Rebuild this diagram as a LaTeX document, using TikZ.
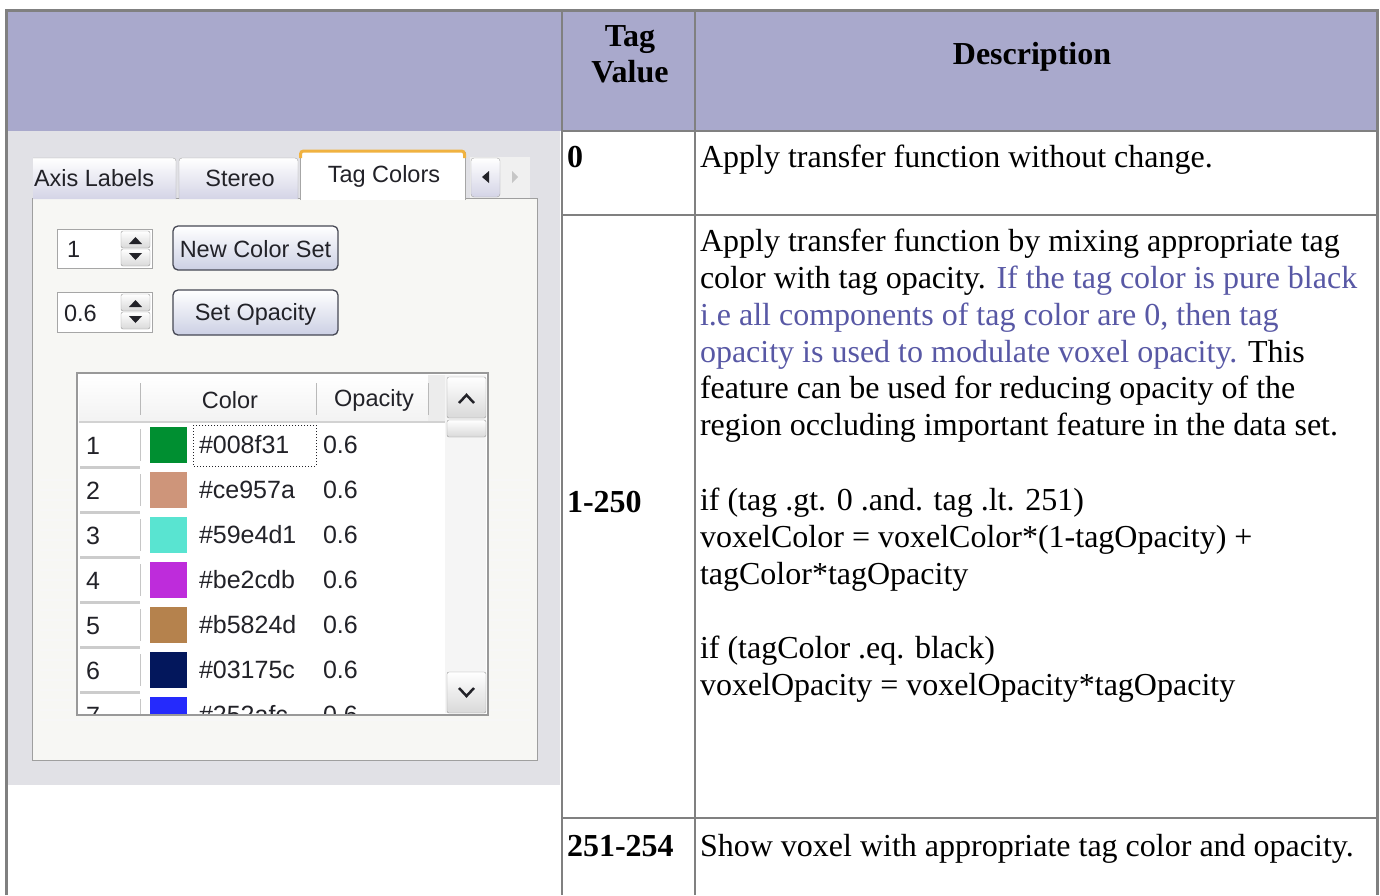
\documentclass[tikz,border=0pt]{standalone}
\usepackage{fontspec}
\setmainfont{Liberation Serif}
\newfontfamily\uifont{Liberation Sans}
\definecolor{hdr}{RGB}{169,169,204}
\definecolor{gridc}{RGB}{128,128,128}
\definecolor{bluetxt}{RGB}{88,88,165}
\definecolor{shotbg}{RGB}{225,225,230}
\definecolor{panelbg}{RGB}{247,247,244}
\definecolor{tabbot}{RGB}{212,212,230}
\definecolor{btnbot}{RGB}{204,208,228}
\definecolor{btnline}{RGB}{70,72,84}
\definecolor{uitxt}{RGB}{34,34,40}
\definecolor{orangetab}{RGB}{240,178,64}
\definecolor{cA}{HTML}{008f31}
\definecolor{cB}{HTML}{ce957a}
\definecolor{cC}{HTML}{59e4d1}
\definecolor{cD}{HTML}{be2cdb}
\definecolor{cE}{HTML}{b5824d}
\definecolor{cF}{HTML}{03175c}
\definecolor{cG}{HTML}{252afc}
\begin{document}
\begin{tikzpicture}[x=1pt,y=-1pt,
  txt/.style={font=\fontsize{32}{36.8}\selectfont, anchor=base west, inner sep=0pt, outer sep=0pt},
  hd/.style={font=\fontsize{32}{36.8}\selectfont\bfseries, anchor=base, inner sep=0pt, outer sep=0pt},
  ui/.style={font=\uifont\fontsize{23.5}{27}\selectfont, text=uitxt, inner sep=0pt, outer sep=0pt},
  cell/.style={font=\uifont\fontsize{25}{29}\selectfont, text=uitxt, inner sep=0pt, outer sep=0pt, anchor=west},
  tabshape/.style={draw=gray!70, top color=white, bottom color=tabbot, rounded corners=3pt},
  spinbtn/.style={draw=gray!80, rounded corners=2pt, top color=white, bottom color=gray!30},
  bigbtn/.style={draw=btnline, line width=1.3pt, rounded corners=5pt, top color=white, bottom color=btnbot},
  cellline/.style={draw=gridc, line width=2.5pt},
]
\useasboundingbox (0,0) rectangle (1380,895);
\fill[white] (0,0) rectangle (1380,895);
% ---------- table frame ----------
\fill[hdr] (7,11) rectangle (1377,131);
\fill[shotbg] (8,131) rectangle (560,785);
\draw[cellline] (562,11) -- (562,895);
\draw[cellline] (695,11) -- (695,895);
\draw[cellline] (562,131) -- (1377,131);
\draw[cellline] (562,215) -- (1377,215);
\draw[cellline] (562,818) -- (1377,818);
\draw[gridc, line width=3pt] (6.5,895) -- (6.5,10.5) -- (1377.5,10.5) -- (1377.5,895);
% ---------- header text ----------
\node[hd] (tag1) at (630,46) {Tag};
\node[hd] (tag2) at (630,82) {Value};
\node[hd] (desc) at (1032,64) {Description};
% ---------- rows ----------
\node[txt, font=\fontsize{32}{36.8}\selectfont\bfseries] (v0) at (567,167) {0};
\node[txt] (r0) at (700,167) {Apply transfer function without change.};
\node[txt, font=\fontsize{32}{36.8}\selectfont\bfseries] (v1) at (567,512) {1-250};
\node[txt] (d1) at (700,251) {Apply transfer function by mixing appropriate tag};
\node[txt] (d2) at (700,288) {color with tag opacity. \textcolor{bluetxt}{If the tag color is pure black}};
\node[txt, text=bluetxt] (d3) at (700,325) {i.e all components of tag color are 0, then tag};
\node[txt] (d4) at (700,362) {\textcolor{bluetxt}{opacity is used to modulate voxel opacity.} This};
\node[txt] (d5) at (700,398.5) {feature can be used for reducing opacity of the};
\node[txt] (d6) at (700,435.5) {region occluding important feature in the data set.};
\node[txt] (d7) at (700,510) {if (tag .gt. 0 .and. tag .lt. 251)};
\node[txt] (d8) at (700,547) {voxelColor = voxelColor*(1-tagOpacity) +};
\node[txt] (d9) at (700,584) {tagColor*tagOpacity};
\node[txt] (d10) at (700,658) {if (tagColor .eq. black)};
\node[txt] (d11) at (700,695) {voxelOpacity = voxelOpacity*tagOpacity};
\node[txt, font=\fontsize{32}{36.8}\selectfont\bfseries] (v2) at (567,856) {251-254};
\node[txt] (r2) at (700,856) {Show voxel with appropriate tag color and opacity.};
% ---------- screenshot: panel ----------
\draw[draw=gray!75, fill=panelbg] (32,198) rectangle (537,760);
\foreach \k in {0,...,24} {\draw[gray!6, line width=1.2pt] (40,480+10*\k) -- (530,480+10*\k);}
% tabs
\begin{scope}
\clip (33,140) rectangle (300,199);
\draw[tabshape] (28,199) -- (28,158) -- (176,158) -- (176,199);
\node[ui, anchor=west] (tabaxis) at (34,178) {Axis Labels};
\end{scope}
\draw[tabshape] (179,199) -- (179,158) -- (298,158) -- (298,199);
\node[ui] (tabstereo) at (240,178) {Stereo};
\fill[white] (300,151) rectangle (465,200);
\draw[gray!70] (300,200) -- (300,152);
\draw[gray!70] (465,200) -- (465,152);
\draw[orangetab, line width=3pt, rounded corners=3pt] (300.5,158) -- (300.5,151) -- (464.5,151) -- (464.5,158);
\node[ui] (tabtag) at (384,176) {Tag Colors};
\fill[gray!12] (470,157) rectangle (530,198);
\draw[tabshape] (471,158) rectangle (500,197);
\fill[uitxt] (482,177) -- (489,171) -- (489,183) -- cycle;
\fill[gray!45] (518,177) -- (512,171) -- (512,183) -- cycle;
% spin box 1
\draw[gray!70, fill=white] (57,229) rectangle (152,268);
\node[ui, anchor=west] (spin1) at (67,249) {1};
\draw[spinbtn] (121,231) rectangle (150,248);
\draw[spinbtn] (121,249) rectangle (150,266);
\fill[uitxt] (129,244) -- (135.5,237) -- (142,244) -- cycle;
\fill[uitxt] (129,253) -- (135.5,260) -- (142,253) -- cycle;
\draw[bigbtn] (173,226) rectangle (338,270);
\node[ui] (btn1) at (255.5,249) {New Color Set};
% spin box 2
\draw[gray!70, fill=white] (57,292) rectangle (152,332);
\node[ui, anchor=west] (spin2) at (64,313) {0.6};
\draw[spinbtn] (121,294) rectangle (150,311);
\draw[spinbtn] (121,312) rectangle (150,329);
\fill[uitxt] (129,307) -- (135.5,300) -- (142,307) -- cycle;
\fill[uitxt] (129,316) -- (135.5,323) -- (142,316) -- cycle;
\draw[bigbtn] (173,290) rectangle (338,335);
\node[ui] (btn2) at (255.5,314) {Set Opacity};
% ---------- grid ----------
\draw[gray!80, fill=white, line width=1.2pt] (77,373) rectangle (488,715);
\shade[top color=white, bottom color=gray!10] (79,375) rectangle (445,421);
\fill[gray!15] (428,375) rectangle (445,421);
\draw[gray!35, line width=2pt] (79,422) -- (445,422);
\draw[gray!55] (140,383) -- (140,415);
\draw[gray!55] (316,383) -- (316,415);
\draw[gray!55] (428,383) -- (428,415);
\node[ui] (hcol) at (230,400) {Color};
\node[ui] (hop) at (374,400) {Opacity};
% scrollbar
\fill[gray!8] (445,375) rectangle (486,713);
\draw[spinbtn] (447,377) rectangle (486,418);
\draw[uitxt, line width=2.5pt] (459,403) -- (466.5,395) -- (474,403);
\draw[spinbtn] (447,420) rectangle (486,437);
\draw[spinbtn] (447,672) rectangle (486,713);
\draw[uitxt, line width=2.5pt] (459,688) -- (466.5,696) -- (474,688);
% rows
\begin{scope}
\clip (79,423) rectangle (445,713);
\foreach \i/\c/\h in {1/cA/008f31, 2/cB/ce957a, 3/cC/59e4d1, 4/cD/be2cdb, 5/cE/b5824d, 6/cF/03175c, 7/cG/252afc} {
  \pgfmathsetmacro{\yy}{445+45*(\i-1)}
  \draw[gray!40, line width=3pt] (80,\yy+22.5) -- (140,\yy+22.5);
  \draw[gray!45] (140,\yy-16) -- (140,\yy+16);
  \node[cell] (num\i) at (86,\yy+1) {\i};
  \fill[\c] (150,\yy-18) rectangle (187,\yy+18);
  \node[cell] (hex\i) at (199,\yy) {\#\h};
  \node[cell] (op\i) at (323,\yy) {0.6};
}
\end{scope}
\draw[uitxt, dotted, line width=1pt] (193,425) rectangle (316,466);
\end{tikzpicture}
\end{document}
